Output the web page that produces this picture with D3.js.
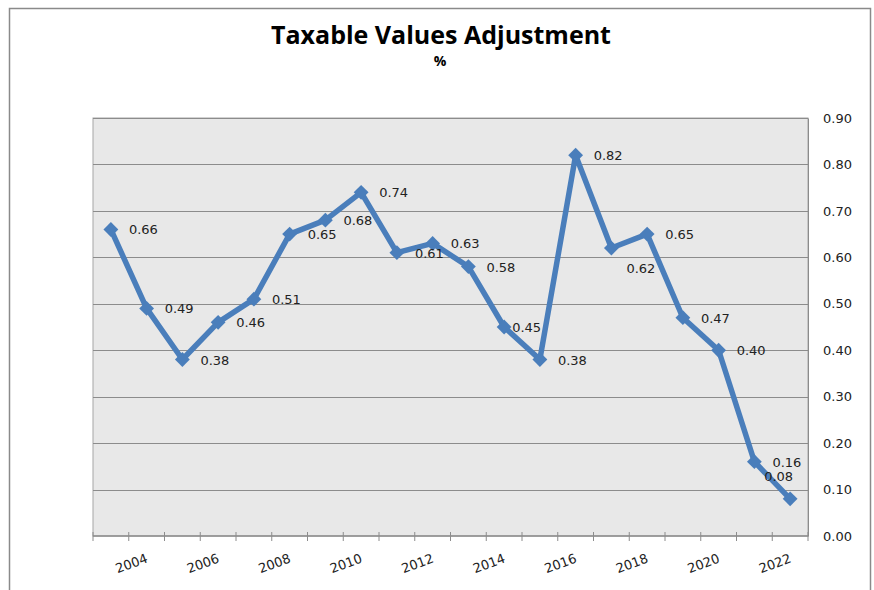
<!DOCTYPE html>
<meta charset="utf-8">
<style>
  body { margin: 0; background: #fff; }
  .title { font: bold 25px "Open Sans", sans-serif; fill: #000; }
  .subtitle { font: bold 14px "Open Sans", sans-serif; fill: #000; }
  .tick text, .lbl { font: 13px "DejaVu Sans", sans-serif; fill: #222; }
</style>
<svg width="874" height="590"></svg>
<script src="https://d3js.org/d3.v7.min.js"></script>
<script>
// data
var years = [2003, 2004, 2005, 2006, 2007, 2008, 2009, 2010, 2011, 2012,
             2013, 2014, 2015, 2016, 2017, 2018, 2019, 2020, 2021, 2022];
var values = [0.66, 0.49, 0.38, 0.46, 0.51, 0.65, 0.68, 0.74, 0.61, 0.63,
              0.58, 0.45, 0.38, 0.82, 0.62, 0.65, 0.47, 0.40, 0.16, 0.08];
var yTicks = [0, 0.1, 0.2, 0.3, 0.4, 0.5, 0.6, 0.7, 0.8, 0.9];
var xLabelYears = [2004, 2006, 2008, 2010, 2012, 2014, 2016, 2018, 2020, 2022];

// a few labels were dragged by hand in the original
var labelNudge = { 2014: [-10, 0], 2017: [-3, 20], 2022: [-44, -23] };

var svg = d3.select("svg"),
    margin = {top: 118, right: 66, bottom: 54, left: 93},
    width = +svg.attr("width") - margin.left - margin.right,
    height = +svg.attr("height") - margin.top - margin.bottom;

// outer frame
svg.append("rect")
    .attr("x", 9.5).attr("y", 8.5)
    .attr("width", 861).attr("height", 600)
    .attr("fill", "none")
    .attr("stroke", "#8a8a8a")
    .attr("stroke-width", 1.5);

svg.append("text")
    .attr("class", "title")
    .attr("x", 441).attr("y", 44)
    .attr("text-anchor", "middle")
    .text("Taxable Values Adjustment");

svg.append("text")
    .attr("class", "subtitle")
    .attr("x", 440).attr("y", 66)
    .attr("text-anchor", "middle")
    .text("%");

var g = svg.append("g").attr("transform", "translate(" + margin.left + "," + margin.top + ")");

var x = d3.scaleBand().domain(years).range([0, width]);
var y = d3.scaleLinear().domain([0, 0.9]).range([height, 0]);

g.append("rect")
    .attr("width", width).attr("height", height)
    .attr("fill", "#e8e8e8")
    .attr("stroke", "#a6a6a6");

// gridlines
g.append("g")
  .selectAll("line")
  .data(yTicks.slice(1))
  .join("line")
    .attr("x1", 0).attr("x2", width)
    .attr("y1", function(d) { return Math.round(y(d)) + 0.5; })
    .attr("y2", function(d) { return Math.round(y(d)) + 0.5; })
    .attr("stroke", "#8c8c8c");

// right axis
var yAxis = g.append("g")
    .attr("transform", "translate(" + width + ",0)")
    .call(d3.axisRight(y).tickValues(yTicks).tickFormat(d3.format(".2f")).tickSize(0).tickPadding(15));
yAxis.select(".domain").attr("stroke", "#8c8c8c");

// bottom axis, ticks on band edges
var xAxis = g.append("g").attr("transform", "translate(0," + height + ")");
xAxis.append("line")
    .attr("x1", 0).attr("x2", width)
    .attr("stroke", "#8c8c8c").attr("stroke-width", 1.5);
xAxis.selectAll(".tk")
  .data(years.concat([null]))
  .join("line")
    .attr("class", "tk")
    .attr("x1", function(d) { return d === null ? width : x(d); })
    .attr("x2", function(d) { return d === null ? width : x(d); })
    .attr("y1", -4).attr("y2", 5)
    .attr("stroke", "#8c8c8c");
xAxis.selectAll(".xl")
  .data(xLabelYears)
  .join("text")
    .attr("class", "lbl")
    .attr("text-anchor", "end")
    .attr("transform", function(d) {
      return "translate(" + (x(d) + x.bandwidth() / 2 + 2) + ",26) rotate(-20)";
    })
    .text(function(d) { return d; });

var pts = years.map(function(yr, i) { return {year: yr, v: values[i]}; });

var line = d3.line()
    .x(function(d) { return x(d.year) + x.bandwidth() / 2; })
    .y(function(d) { return y(d.v); });

g.append("path")
    .datum(pts)
    .attr("fill", "none")
    .attr("stroke", "#4a7ebb")
    .attr("stroke-width", 5.5)
    .attr("stroke-linejoin", "round")
    .attr("d", line);

g.selectAll(".mk")
  .data(pts)
  .join("path")
    .attr("class", "mk")
    .attr("d", d3.symbol(d3.symbolDiamond2, 140))
    .attr("transform", function(d) {
      return "translate(" + (x(d.year) + x.bandwidth() / 2) + "," + y(d.v) + ")";
    })
    .attr("fill", "#4a7ebb");

g.selectAll(".dl")
  .data(pts)
  .join("text")
    .attr("class", "lbl")
    .attr("x", function(d) {
      var n = labelNudge[d.year] || [0, 0];
      return x(d.year) + x.bandwidth() / 2 + 18 + n[0];
    })
    .attr("y", function(d) {
      var n = labelNudge[d.year] || [0, 0];
      return y(d.v) + 5 + n[1];
    })
    .text(function(d) { return d3.format(".2f")(d.v); });
</script>
